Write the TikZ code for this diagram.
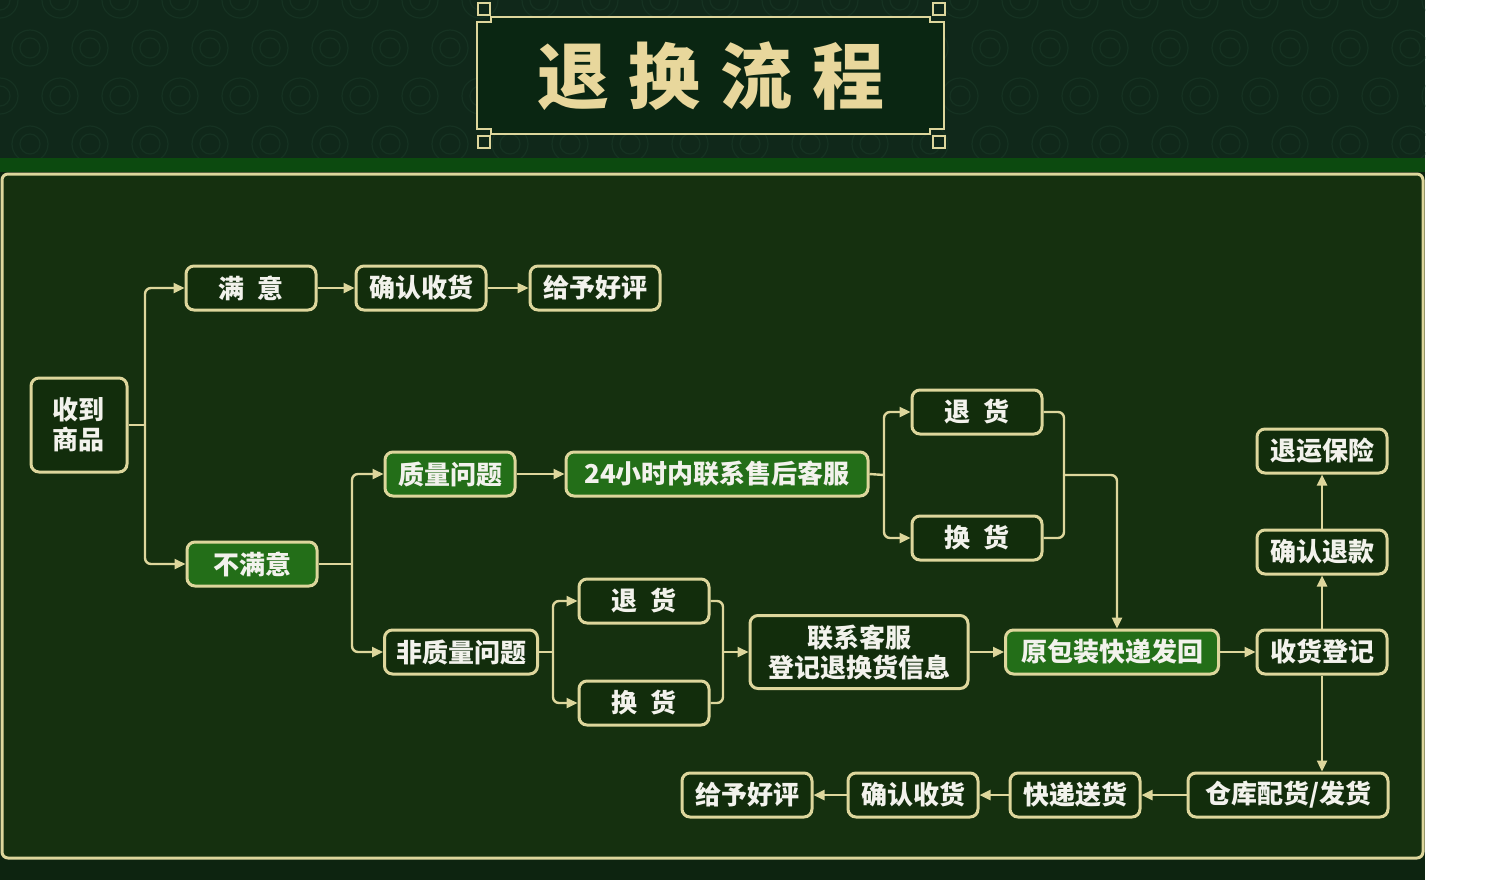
\documentclass[tikz,border=0pt]{standalone}
\usepackage{fontspec}
\setmainfont{Noto Sans CJK SC}
\usepackage{xcolor}
\usepackage{tikz}
\usetikzlibrary{
    arrows.meta,
    positioning,
    calc
}
\definecolor{cream}{HTML}{DDD69C}
\definecolor{boardgreen}{HTML}{15300F}
\definecolor{boxdark}{HTML}{122D0C}
\definecolor{boxgreen}{HTML}{236E18}
\definecolor{topgreen}{HTML}{10281A}
\definecolor{swirl}{HTML}{163222}
\definecolor{bandgreen}{HTML}{0C4A0F}
\definecolor{basegreen}{HTML}{0D2410}
\definecolor{plaque}{HTML}{0A2612}
\definecolor{gold}{HTML}{E8D79C}
\definecolor{label}{HTML}{F2F2EC}
\tikzset{
    stage/.style={
        draw=cream,
        line width=1.5pt,
        rounded corners=4pt,
        fill=boxdark,
        minimum width=65pt,
        minimum height=22pt,
        inner sep=0pt,
        align=center,
        text=label,
        font=\fontsize{13pt}{15pt}\selectfont\bfseries
    }
}
\tikzset{
    stagehi/.style={
        stage,
        fill=boxgreen
    }
}
\tikzset{
    branch/.style={
        draw=cream,
        line width=1.2pt,
        rounded corners=3pt
    }
}
\tikzset{
    flow/.style={
        branch,
        -{Triangle[length=5.5pt,width=5pt]}
    }
}

\begin{document}
\begin{tikzpicture}[
    x=0.5pt,
    y=-0.5pt
]

% ------------------------------------------------------------
% Background and board
% ------------------------------------------------------------

\useasboundingbox (0,0) rectangle (1500,880);
\fill[white]      (0,0)   rectangle (1500,880);
\fill[topgreen]   (0,0)   rectangle (1425,158);
\begin{scope}
    \clip (0,0) rectangle (1425,158);
    \foreach \i in {0,...,24} {
        \foreach \j in {0,...,3} {
            \draw[swirl, line width=0.6pt] ({\i*60+mod(\j,2)*30},{\j*48}) circle (18) circle (10);
        }
    }
\end{scope}
\fill[bandgreen]  (0,158) rectangle (1425,172);
\fill[basegreen]  (0,172) rectangle (1425,880);
\draw[cream, line width=1.5pt, fill=boardgreen, rounded corners=3pt] (2,174) rectangle (1423,858);

% ------------------------------------------------------------
% Title plaque
% ------------------------------------------------------------

\draw[cream, line width=0.8pt, fill=plaque]
    (477,22) -- (491,22) -- (491,17) -- (930,17) -- (930,22) -- (944,22)
    -- (944,129) -- (930,129) -- (930,134) -- (491,134) -- (491,129) -- (477,129) -- cycle;
\draw[cream, line width=0.8pt, fill=topgreen] (478,3)   rectangle (490,15);
\draw[cream, line width=0.8pt, fill=topgreen] (933,3)   rectangle (945,15);
\draw[cream, line width=0.8pt, fill=topgreen] (478,136) rectangle (490,148);
\draw[cream, line width=0.8pt, fill=topgreen] (933,136) rectangle (945,148);
\node[font=\fontsize{36pt}{36pt}\selectfont\bfseries, text=gold] (title) at (711,76)
    {退\hspace{10pt}换\hspace{10pt}流\hspace{10pt}程};

% ------------------------------------------------------------
% Receipt and satisfied branch
% ------------------------------------------------------------

\node[stage, minimum width=48pt, minimum height=47pt] (recv) at (79,425) {收到\\商品};
\node[stage] (sat)   at (251,288) {满\hspace{0.5em}意};
\node[stage] (okA)   at (421,288) {确认收货};
\node[stage] (goodA) at (595,288) {给予好评};
\node[stagehi] (unsat) at (252,564) {不满意};

\coordinate (jA) at (145,425);
\draw[branch] (recv.east) -- (jA);
\draw[flow] (jA) |- (sat.west);
\draw[flow] (jA) |- (unsat.west);
\draw[flow] (sat) -- (okA);
\draw[flow] (okA) -- (goodA);

% ------------------------------------------------------------
% Quality problem
% ------------------------------------------------------------

\node[stagehi] (qual) at (450,474) {质量问题};
\node[stagehi, minimum width=151pt] (call) at (717,474) {24小时内联系售后客服};
\node[stage] (retA) at (977,412) {退\hspace{0.5em}货};
\node[stage] (excA) at (977,538) {换\hspace{0.5em}货};

\coordinate (jB) at (352,564);
\draw[branch] (unsat.east) -- (jB);
\draw[flow] (jB) |- (qual.west);
\draw[flow] (qual) -- (call);
\coordinate (jC) at (884,475);
\draw[branch] (call.east) -- (jC);
\draw[flow] (jC) |- (retA.west);
\draw[flow] (jC) |- (excA.west);

% ------------------------------------------------------------
% Other problem
% ------------------------------------------------------------

\node[stage, minimum width=76.5pt] (nonq) at (461,652) {非质量问题};
\node[stage] (retB) at (644,601) {退\hspace{0.5em}货};
\node[stage] (excB) at (644,703) {换\hspace{0.5em}货};
\node[stage, minimum width=109pt, minimum height=36.5pt] (reg) at (859,652)
    {联系客服\\登记退换货信息};

\draw[flow] (jB) |- (nonq.west);
\coordinate (jD) at (553,652);
\draw[branch] (nonq.east) -- (jD);
\draw[flow] (jD) |- (retB.west);
\draw[flow] (jD) |- (excB.west);
\coordinate (mB) at (723,652);
\draw[branch] (retB.east) -| (mB);
\draw[branch] (excB.east) -| (mB);
\draw[flow] (mB) -- (reg.west);

% ------------------------------------------------------------
% Return shipment and handling
% ------------------------------------------------------------

\node[stagehi, minimum width=106.5pt] (pack) at (1112,652) {原包装快递发回};
\node[stage] (recd)   at (1322,652) {收货登记};
\node[stage] (refund) at (1322,552) {确认退款};
\node[stage] (insur)  at (1322,451) {退运保险};

\coordinate (mA) at (1064,475);
\coordinate (pin) at ($(pack.north)+(5,0)$);
\draw[branch] (retA.east) -| (mA);
\draw[branch] (excA.east) -| (mA);
\draw[flow] (mA) -| (pin);
\draw[flow] (reg) -- (pack);
\draw[flow] (pack) -- (recd);
\draw[flow] (recd) -- (refund);
\draw[flow] (refund) -- (insur);

% ------------------------------------------------------------
% Re-delivery
% ------------------------------------------------------------

\node[stage, minimum width=100pt] (ware) at (1288,795) {仓库配货/发货};
\node[stage] (ship)  at (1075,795) {快递送货};
\node[stage] (okB)   at (913,795)  {确认收货};
\node[stage] (goodB) at (747,795)  {给予好评};

\draw[flow] (recd.south) -- (recd.south |- ware.north);
\draw[flow] (ware) -- (ship);
\draw[flow] (ship) -- (okB);
\draw[flow] (okB) -- (goodB);

\end{tikzpicture}
\end{document}
